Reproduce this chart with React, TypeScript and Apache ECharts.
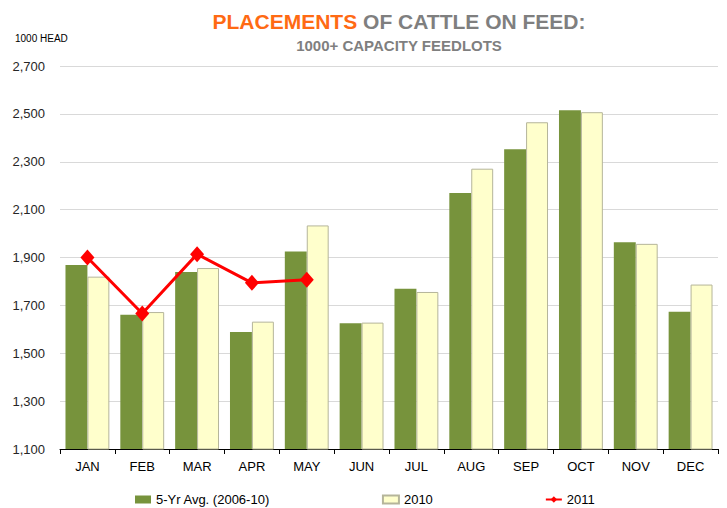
import React, { useEffect, useRef } from "react";
import * as echarts from "echarts";

const months = ["JAN", "FEB", "MAR", "APR", "MAY", "JUN", "JUL", "AUG", "SEP", "OCT", "NOV", "DEC"];
const avg5yr = [1869, 1661, 1839, 1589, 1925, 1625, 1769, 2169, 2352, 2515, 1964, 1673];
const y2010 = [1820, 1672, 1856, 1632, 2034, 1628, 1756, 2271, 2465, 2507, 1957, 1787];
const y2011 = [1900, 1666, 1914, 1794, 1807, null, null, null, null, null, null, null];
const seriesNames = ["5-Yr Avg. (2006-10)", "2010", "2011"];
const yMin = 1100;
const yMax = 2700;
const yStep = 200;

export default function App() {
  const ref = useRef<HTMLDivElement>(null);
  useEffect(() => {
    if (!ref.current) return;
    const chart = echarts.init(ref.current, null, { renderer: "svg" });
    const font = "'Liberation Sans', Arial, sans-serif";
    chart.setOption({
      animation: false,
      backgroundColor: "#ffffff",
      textStyle: { fontFamily: font },
      grid: { left: 60, right: 9, top: 66, bottom: 59, containLabel: false },
      graphic: [
        {
          type: "text",
          x: 399,
          y: 21,
          style: {
            text: "{o|PLACEMENTS}{g| OF CATTLE ON FEED:}",
            align: "center",
            verticalAlign: "middle",
            rich: {
              o: { fontSize: 21, fontWeight: "bold", fill: "#FF6A13", fontFamily: font },
              g: { fontSize: 21, fontWeight: "bold", fill: "#7F7F7F", fontFamily: font },
            },
          },
        },
        {
          type: "text",
          x: 399,
          y: 45,
          style: {
            text: "1000+ CAPACITY FEEDLOTS",
            align: "center",
            verticalAlign: "middle",
            fontSize: 15,
            fontWeight: "bold",
            fill: "#7F7F7F",
            fontFamily: font,
          },
        },
        {
          type: "text",
          x: 15,
          y: 38,
          style: {
            text: "1000 HEAD",
            align: "left",
            verticalAlign: "middle",
            fontSize: 10,
            fill: "#000000",
            fontFamily: font,
          },
        },
      ],
      legend: {
        left: 130,
        top: 488,
        itemGap: 112,
        itemWidth: 16,
        itemHeight: 8,
        textStyle: { fontSize: 13, color: "#000000", fontFamily: font },
        data: [
          { name: seriesNames[0], icon: "rect" },
          { name: seriesNames[1], icon: "rect" },
          { name: seriesNames[2] },
        ],
      },
      xAxis: {
        type: "category",
        data: months,
        boundaryGap: true,
        axisLine: { lineStyle: { color: "#000000", width: 1 } },
        axisTick: { show: true, length: 5, lineStyle: { color: "#000000" } },
        axisLabel: { fontSize: 13, color: "#000000", margin: 11, fontFamily: font },
      },
      yAxis: {
        type: "value",
        min: yMin,
        max: yMax,
        interval: yStep,
        axisLine: { show: false },
        axisTick: { show: false },
        splitLine: { lineStyle: { color: "#D9D9D9", width: 1 } },
        axisLabel: {
          fontSize: 13,
          color: "#262626",
          margin: 15,
          fontFamily: font,
          formatter: (v: number) => v.toLocaleString("en-US"),
        },
      },
      series: [
        {
          name: seriesNames[0],
          type: "bar",
          data: avg5yr,
          barGap: "0%",
          barCategoryGap: "20%",
          itemStyle: { color: "#77933C" },
        },
        {
          name: seriesNames[1],
          type: "bar",
          data: y2010,
          barGap: "0%",
          barCategoryGap: "20%",
          itemStyle: { color: "#FFFFCC", borderColor: "#B5B59A", borderWidth: 1 },
        },
        {
          name: seriesNames[2],
          type: "line",
          data: y2011,
          symbol: "diamond",
          symbolSize: [14, 16],
          lineStyle: { color: "#FF0000", width: 3 },
          itemStyle: { color: "#FF0000" },
          connectNulls: false,
          z: 5,
        },
      ],
    });
    return () => chart.dispose();
  }, []);
  return (
    <div
      ref={ref}
      style={{ position: "fixed", left: 0, top: 0, width: 727, height: 508, background: "#fff" }}
    />
  );
}
